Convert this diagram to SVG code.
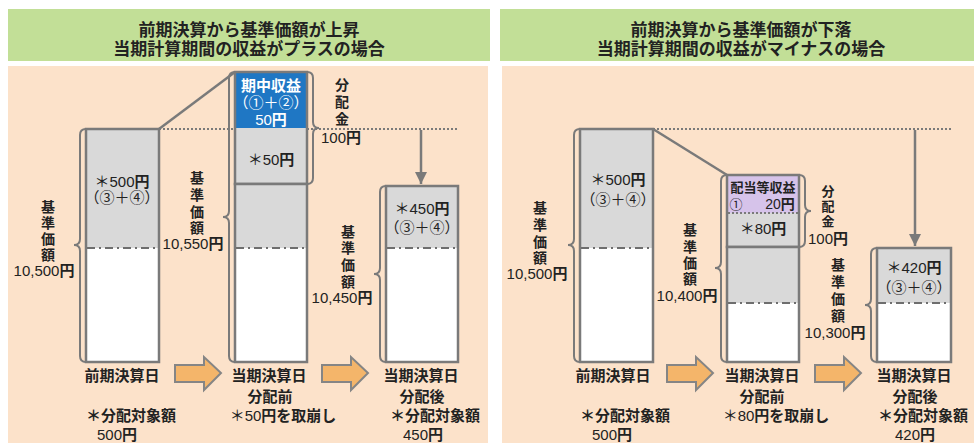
<svg xmlns="http://www.w3.org/2000/svg" width="974" height="443" viewBox="0 0 974 443">
<defs>
<style>
.hdr{fill:#C2DF97}
.pan{fill:#FCE2CA}
.h{font-family:"Liberation Sans","Noto Sans CJK JP",sans-serif;font-weight:700;font-size:17px;fill:#222;text-anchor:middle}
.t{font-family:"Liberation Sans","Noto Sans CJK JP",sans-serif;font-size:15px;fill:#222;text-anchor:middle}
.v{font-size:14px}
.b{font-weight:700}
.n{font-weight:400;font-size:15px}
.bar{stroke:#7A7A7A;stroke-width:2.5}
.gray{fill:#D9D9D9}
.wh{fill:#fff}
.dd{stroke:#6E6E6E;stroke-width:2;stroke-dasharray:8 4 2 4;fill:none}
.dot{stroke:#7A7A7A;stroke-width:2;stroke-dasharray:2 2;fill:none}
.br{fill:none;stroke:#7A7A7A;stroke-width:2}
.ln{fill:none;stroke:#7A7A7A;stroke-width:2.5}
.arr{fill:#F4B56A;stroke:#858585;stroke-width:2}
</style>
<marker id="ah" markerWidth="12" markerHeight="12" refX="10" refY="5" orient="auto" markerUnits="userSpaceOnUse" viewBox="0 0 10 10"><path d="M0,0 L10,5 L0,10 Z" fill="#7A7A7A"/></marker>
</defs>

<g id="panel-left">
<rect class="hdr" x="8" y="9" width="482" height="52"/>
<text class="h"><tspan x="249" y="36">前期決算から基準価額が上昇</tspan><tspan x="249" y="55">当期計算期間の収益がプラスの場合</tspan></text>
<rect class="pan" x="8" y="66" width="480" height="377"/>
</g>
<g id="panel-right">
<rect class="hdr" x="500" y="9" width="474" height="52"/>
<text class="h"><tspan x="741" y="36">前期決算から基準価額が下落</tspan><tspan x="741" y="55">当期計算期間の収益がマイナスの場合</tspan></text>
<rect class="pan" x="502" y="66" width="472" height="377"/>
</g>

<g id="connectors">
<path class="dot" d="M159,129 H458"/>
<path class="ln" d="M159,129 L235,72"/>
<path class="ln" d="M421,130 V184" marker-end="url(#ah)"/>
<path class="arr" d="M175,365 H204 V357 L221,373 L204,390 V382 H175 Z"/>
<path class="arr" d="M322,365 H351 V357 L368,373 L351,390 V382 H322 Z"/>
<path class="dot" d="M653,129 H952"/>
<path class="ln" d="M653,129 L727,175"/>
<path class="ln" d="M915,130 V246" marker-end="url(#ah)"/>
<path class="arr" d="M667,365 H696 V357 L713,373 L696,390 V382 H667 Z"/>
<path class="arr" d="M815,365 H844 V357 L861,373 L844,390 V382 H815 Z"/>
</g>

<g id="L-prev">
<rect class="gray" x="86" y="129" width="73" height="119"/>
<rect class="wh" x="86" y="248" width="73" height="114"/>
<path class="dd" d="M87,248 H158"/>
<rect class="bar" fill="none" x="86" y="129" width="73" height="233"/>
<text class="t"><tspan x="122" y="187">＊500<tspan class="b">円</tspan></tspan><tspan x="122" y="203">（③＋④）</tspan></text>
<path class="br" d="M86,129 Q80,129 80,135 V239 Q80,245 74,245 Q80,245 80,251 V356 Q80,362 86,362"/>
<text class="t b v"><tspan x="48" y="212">基</tspan><tspan x="48" y="228">準</tspan><tspan x="48" y="244">価</tspan><tspan x="48" y="260">額</tspan><tspan x="44" y="276" class="n">10,500<tspan class="b">円</tspan></tspan></text>
<text class="t b"><tspan x="122" y="381">前期決算日</tspan><tspan x="131" y="421">＊分配対象額</tspan><tspan x="117" y="440" class="n">500<tspan class="b">円</tspan></tspan></text>
</g>

<g id="L-before">
<rect fill="#1F77C4" x="235" y="72" width="72" height="56"/>
<rect class="gray" x="235" y="128" width="72" height="56"/>
<rect class="bar" fill="none" x="235" y="72" width="72" height="112"/>
<rect class="gray" x="235" y="184" width="72" height="64"/>
<rect class="wh" x="235" y="248" width="72" height="114"/>
<path class="dd" d="M236,248 H306"/>
<rect class="bar" fill="none" x="235" y="184" width="72" height="178"/>
<text class="t" style="fill:#fff"><tspan x="271" y="91" class="b">期中収益</tspan><tspan x="271" y="108">（①＋②）</tspan><tspan x="271" y="125">50<tspan class="b">円</tspan></tspan></text>
<text class="t" x="271" y="165">＊50<tspan class="b">円</tspan></text>
<path class="br" d="M235,72 Q229,72 229,78 V211 Q229,217 223,217 Q229,217 229,223 V356 Q229,362 235,362"/>
<path class="br" d="M307,72 Q313,72 313,78 V122 Q313,128 319,128 Q313,128 313,134 V178 Q313,184 307,184"/>
<text class="t b v"><tspan x="342" y="90">分</tspan><tspan x="342" y="107">配</tspan><tspan x="342" y="124">金</tspan><tspan x="341" y="143" class="n">100<tspan class="b">円</tspan></tspan></text>
<text class="t b v"><tspan x="197" y="183">基</tspan><tspan x="197" y="200">準</tspan><tspan x="197" y="217">価</tspan><tspan x="197" y="233">額</tspan><tspan x="193" y="249" class="n">10,550<tspan class="b">円</tspan></tspan></text>
<text class="t b"><tspan x="269" y="381">当期決算日</tspan><tspan x="270" y="402">分配前</tspan><tspan x="283" y="421"><tspan class="n">＊50</tspan>円を取崩し</tspan></text>
</g>

<g id="L-after">
<rect class="gray" x="386" y="186" width="72" height="62"/>
<rect class="wh" x="386" y="248" width="72" height="114"/>
<path class="dd" d="M387,248 H457"/>
<rect class="bar" fill="none" x="386" y="186" width="72" height="176"/>
<text class="t"><tspan x="422" y="214">＊450<tspan class="b">円</tspan></tspan><tspan x="422" y="233">（③＋④）</tspan></text>
<path class="br" d="M386,186 Q380,186 380,192 V268 Q380,274 374,274 Q380,274 380,280 V356 Q380,362 386,362"/>
<text class="t b v"><tspan x="348" y="237">基</tspan><tspan x="348" y="253">準</tspan><tspan x="348" y="270">価</tspan><tspan x="348" y="287">額</tspan><tspan x="342" y="303" class="n">10,450<tspan class="b">円</tspan></tspan></text>
<text class="t b"><tspan x="421" y="381">当期決算日</tspan><tspan x="422" y="402">分配後</tspan><tspan x="435" y="421">＊分配対象額</tspan><tspan x="423" y="440" class="n">450<tspan class="b">円</tspan></tspan></text>
</g>

<g id="R-prev">
<rect class="gray" x="580" y="129" width="73" height="119"/>
<rect class="wh" x="580" y="248" width="73" height="114"/>
<path class="dd" d="M581,248 H652"/>
<rect class="bar" fill="none" x="580" y="129" width="73" height="233"/>
<text class="t"><tspan x="618" y="185">＊500<tspan class="b">円</tspan></tspan><tspan x="618" y="205">（③＋④）</tspan></text>
<path class="br" d="M580,129 Q574,129 574,135 V239 Q574,245 568,245 Q574,245 574,251 V356 Q574,362 580,362"/>
<text class="t b v"><tspan x="540" y="213">基</tspan><tspan x="540" y="230">準</tspan><tspan x="540" y="247">価</tspan><tspan x="540" y="263">額</tspan><tspan x="537" y="279" class="n">10,500<tspan class="b">円</tspan></tspan></text>
<text class="t b"><tspan x="613" y="381">前期決算日</tspan><tspan x="625" y="421">＊分配対象額</tspan><tspan x="612" y="440" class="n">500<tspan class="b">円</tspan></tspan></text>
</g>

<g id="R-before">
<rect fill="#D6C3EA" x="727" y="175" width="72" height="38"/>
<rect class="gray" x="727" y="213" width="72" height="34"/>
<path class="dot" d="M728,213 H798"/>
<rect class="bar" fill="none" x="727" y="175" width="72" height="72"/>
<rect class="gray" x="727" y="247" width="72" height="56"/>
<rect class="wh" x="727" y="303" width="72" height="59"/>
<path class="dd" d="M728,303 H798"/>
<rect class="bar" fill="none" x="727" y="247" width="72" height="115"/>
<text class="t" style="font-size:13px"><tspan x="763" y="192" class="b">配当等収益</tspan><tspan x="736" y="209">①</tspan><tspan x="780" y="209" style="font-size:14px">20<tspan class="b">円</tspan></tspan></text>
<text class="t" x="763" y="234">＊80<tspan class="b">円</tspan></text>
<path class="br" d="M727,175 Q721,175 721,181 V262 Q721,268 715,268 Q721,268 721,274 V356 Q721,362 727,362"/>
<path class="br" d="M799,175 Q805,175 805,181 V205 Q805,211 811,211 Q805,211 805,217 V241 Q805,247 799,247"/>
<text class="t b" style="font-size:13px"><tspan x="828" y="196">分</tspan><tspan x="828" y="211">配</tspan><tspan x="828" y="226">金</tspan><tspan x="828" y="244" class="n">100<tspan class="b">円</tspan></tspan></text>
<text class="t b v"><tspan x="690" y="235">基</tspan><tspan x="690" y="252">準</tspan><tspan x="690" y="268">価</tspan><tspan x="690" y="284">額</tspan><tspan x="687" y="301" class="n">10,400<tspan class="b">円</tspan></tspan></text>
<text class="t b"><tspan x="762" y="381">当期決算日</tspan><tspan x="762" y="402">分配前</tspan><tspan x="776" y="421"><tspan class="n">＊80</tspan>円を取崩し</tspan></text>
</g>

<g id="R-after">
<rect class="gray" x="877" y="248" width="74" height="55"/>
<rect class="wh" x="877" y="303" width="74" height="59"/>
<path class="dd" d="M878,303 H950"/>
<rect class="bar" fill="none" x="877" y="248" width="74" height="114"/>
<text class="t"><tspan x="914" y="273">＊420<tspan class="b">円</tspan></tspan><tspan x="914" y="293">（③＋④）</tspan></text>
<path class="br" d="M877,248 Q871,248 871,254 V299 Q871,305 865,305 Q871,305 871,311 V356 Q871,362 877,362"/>
<text class="t b v"><tspan x="838" y="270">基</tspan><tspan x="838" y="287">準</tspan><tspan x="838" y="304">価</tspan><tspan x="838" y="321">額</tspan><tspan x="835" y="338" class="n">10,300<tspan class="b">円</tspan></tspan></text>
<text class="t b"><tspan x="914" y="381">当期決算日</tspan><tspan x="915" y="402">分配後</tspan><tspan x="923" y="421">＊分配対象額</tspan><tspan x="915" y="440" class="n">420<tspan class="b">円</tspan></tspan></text>
</g>
</svg>
